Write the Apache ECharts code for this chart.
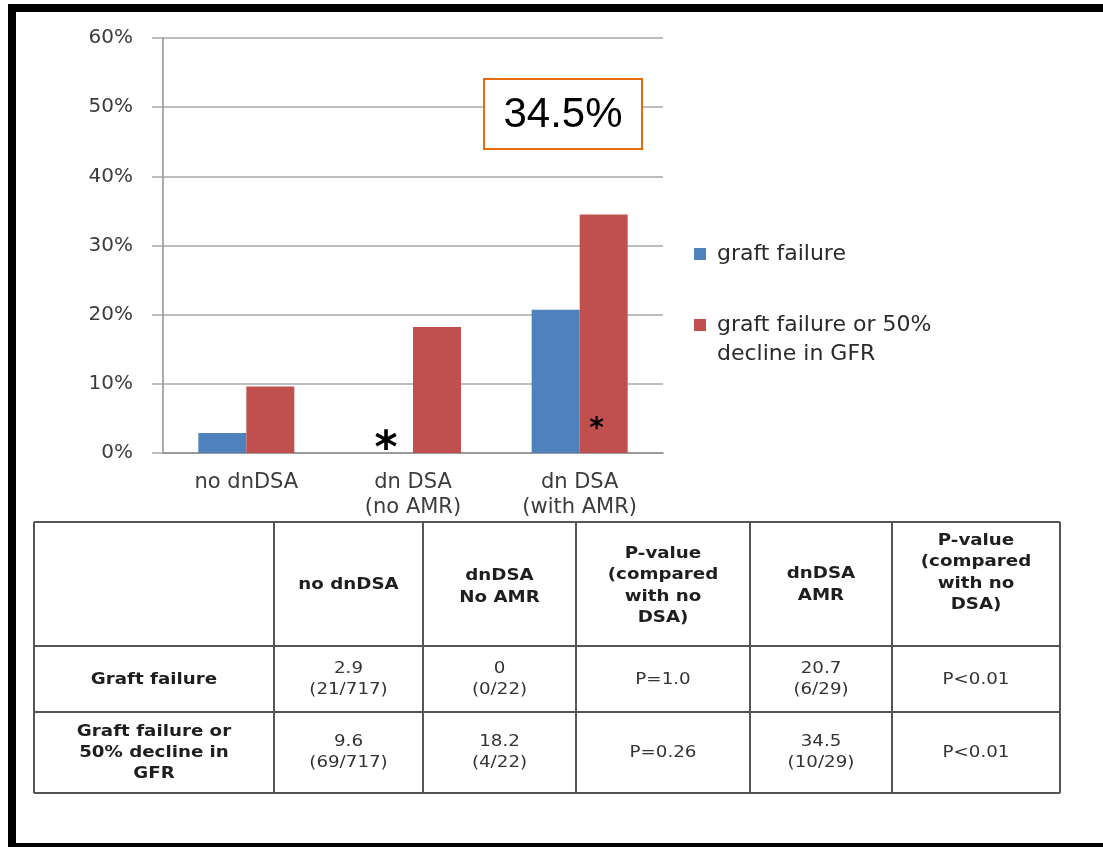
<!DOCTYPE html>
<html>
<head>
<meta charset="utf-8">
<script src="https://cdn.jsdelivr.net/npm/echarts@6/dist/echarts.min.js"></script>
<style>
  html, body { margin: 0; padding: 0; background: #fff; }
  #chart { width: 1103px; height: 847px; }
</style>
</head>
<body>
<div id="chart"></div>
<script>
// Outcome rates (%) by donor-specific antibody status
const categories = ['no dnDSA', 'dn DSA\n(no AMR)', 'dn DSA\n(with AMR)'];
const seriesNames = ['graft failure', 'graft failure or 50% decline in GFR'];
const graftFailure = [2.9, 0, 20.7];
const graftFailureOrDecline = [9.6, 18.2, 34.5];
const markedGraftFailure = [false, true, false];
const markedGraftFailureOrDecline = [false, false, true];

// Axis range
const yMin = 0;
const yMax = 60;
const yStep = 10;

// Table contents
const graftFailureCounts = ['21/717', '0/22', '6/29'];
const declineCounts = ['69/717', '4/22', '10/29'];
const pValuesNoAmr = ['P=1.0', 'P=0.26'];
const pValuesAmr = ['P<0.01', 'P<0.01'];
const tableHeaders = ['', 'no dnDSA', 'dnDSA\nNo AMR', 'P-value\n(compared\nwith no\nDSA)', 'dnDSA\nAMR', 'P-value\n(compared\nwith no\nDSA)'];
const rowLabels = ['Graft failure', 'Graft failure or\n50% decline in\nGFR'];

const COLORS = ['#4F81BD', '#C0504D'];
const AXIS_GREY = '#8f8f8f';
const GRID_GREY = '#a8a8a8';
const FONT = '"DejaVu Sans", Verdana, sans-serif';

function cellValue(v, count) {
  return String(v) + '\n(' + count + ')';
}

function barData(values, marks, labelStyle) {
  return values.map(function (v, i) {
    if (!marks[i]) return v;
    return { value: v, label: Object.assign({ show: true, formatter: '*' }, labelStyle) };
  });
}

// ---- table drawn as graphic elements ----
const colEdges = [34, 274, 423, 576, 750, 892, 1060];
const rowEdges = [522, 646, 712, 793];
const headerCenters = [585, 585, 587, 586, 585, 573];
const rowCenters = [679.5, 752.5];
const TABLE_TEXT_STRETCH = 1.14;

const tableRows = [
  [rowLabels[0],
   cellValue(graftFailure[0], graftFailureCounts[0]),
   cellValue(graftFailure[1], graftFailureCounts[1]),
   pValuesNoAmr[0],
   cellValue(graftFailure[2], graftFailureCounts[2]),
   pValuesAmr[0]],
  [rowLabels[1],
   cellValue(graftFailureOrDecline[0], declineCounts[0]),
   cellValue(graftFailureOrDecline[1], declineCounts[1]),
   pValuesNoAmr[1],
   cellValue(graftFailureOrDecline[2], declineCounts[2]),
   pValuesAmr[1]]
];

const graphics = [];
const tableLine = { stroke: '#555', lineWidth: 2 };
rowEdges.forEach(function (y) {
  graphics.push({ type: 'line', z: 50, shape: { x1: colEdges[0], y1: y, x2: colEdges[colEdges.length - 1], y2: y }, style: tableLine });
});
colEdges.forEach(function (x) {
  graphics.push({ type: 'line', z: 50, shape: { x1: x, y1: rowEdges[0], x2: x, y2: rowEdges[rowEdges.length - 1] }, style: tableLine });
});
function colCenter(c) { return (colEdges[c] + colEdges[c + 1]) / 2; }

function cellText(text, cx, cy, bold, lineHeight, fill) {
  return {
    type: 'text', z: 51,
    x: cx, y: cy, scaleX: TABLE_TEXT_STRETCH,
    style: { text: text, x: 0, y: 0, align: 'center', verticalAlign: 'middle',
      fontFamily: FONT, fontWeight: bold ? 'bold' : 'normal', fontSize: 16, lineHeight: lineHeight, fill: fill }
  };
}

tableHeaders.forEach(function (t, c) {
  if (!t) return;
  graphics.push(cellText(t, colCenter(c), headerCenters[c], true, 21.5, '#1e1e1e'));
});
tableRows.forEach(function (row, r) {
  row.forEach(function (t, c) {
    graphics.push(cellText(t, colCenter(c), rowCenters[r], c === 0, 21, c === 0 ? '#1e1e1e' : '#333'));
  });
});

// callout with the highest rate
graphics.push({
  type: 'rect', z: 60,
  shape: { x: 484, y: 79, width: 158, height: 70 },
  style: { fill: '#fff', stroke: '#E46C0A', lineWidth: 2 }
});
graphics.push({
  type: 'text', z: 61,
  style: { text: graftFailureOrDecline[2] + '%', x: 563, y: 115, align: 'center', verticalAlign: 'middle',
    fontFamily: '"Liberation Sans", Arial, sans-serif', fontSize: 42, fill: '#000' }
});

// black frame
graphics.push({ type: 'rect', z: 70, shape: { x: 8, y: 4, width: 1095, height: 8 }, style: { fill: '#000' } });
graphics.push({ type: 'rect', z: 70, shape: { x: 8, y: 4, width: 8, height: 843 }, style: { fill: '#000' } });
graphics.push({ type: 'rect', z: 70, shape: { x: 8, y: 843, width: 1095, height: 4 }, style: { fill: '#000' } });

const chart = echarts.init(document.getElementById('chart'));
chart.setOption({
  animation: false,
  backgroundColor: '#fff',
  grid: { left: 163, top: 38, width: 500, height: 415, containLabel: false },
  xAxis: {
    type: 'category',
    data: categories,
    axisLine: { lineStyle: { color: AXIS_GREY, width: 1.5 } },
    axisTick: { length: 8, lineStyle: { color: AXIS_GREY, width: 1.5 } },
    axisLabel: { fontFamily: FONT, fontSize: 21, color: '#3c3c3c', margin: 17, lineHeight: 25 }
  },
  yAxis: {
    type: 'value',
    min: yMin, max: yMax, interval: yStep,
    axisLine: { show: true, lineStyle: { color: AXIS_GREY, width: 1.5 } },
    axisTick: { show: true, length: 11, lineStyle: { color: GRID_GREY, width: 1.5 } },
    splitLine: { lineStyle: { color: GRID_GREY, width: 1.5 } },
    axisLabel: { formatter: '{value}%', fontFamily: FONT, fontSize: 20, color: '#3c3c3c', margin: 30 }
  },
  legend: {
    orient: 'vertical',
    left: 694, top: 239.5,
    padding: 0,
    itemWidth: 12, itemHeight: 12, itemGap: 13,
    icon: 'rect',
    data: seriesNames,
    formatter: function (name) {
      return name === seriesNames[1] ? '\n' + name.replace('50% ', '50%\n') : name;
    },
    textStyle: { fontFamily: FONT, fontSize: 22, color: '#2a2a2a', lineHeight: 29, padding: [0, 0, 0, 6] }
  },
  series: [
    {
      name: seriesNames[0], type: 'bar', barWidth: 48, barGap: '0%',
      itemStyle: { color: COLORS[0] },
      data: barData(graftFailure, markedGraftFailure,
        { position: 'top', fontSize: 44, fontWeight: 'bold', fontFamily: FONT, color: '#000', offset: [-3, 25] })
    },
    {
      name: seriesNames[1], type: 'bar', barWidth: 48, barGap: '0%',
      itemStyle: { color: COLORS[1] },
      data: barData(graftFailureOrDecline, markedGraftFailureOrDecline,
        { position: 'insideBottom', fontSize: 28, fontWeight: 'bold', fontFamily: FONT, color: '#000', offset: [-7, -4] })
    }
  ],
  graphic: { elements: graphics }
});
</script>
</body>
</html>
